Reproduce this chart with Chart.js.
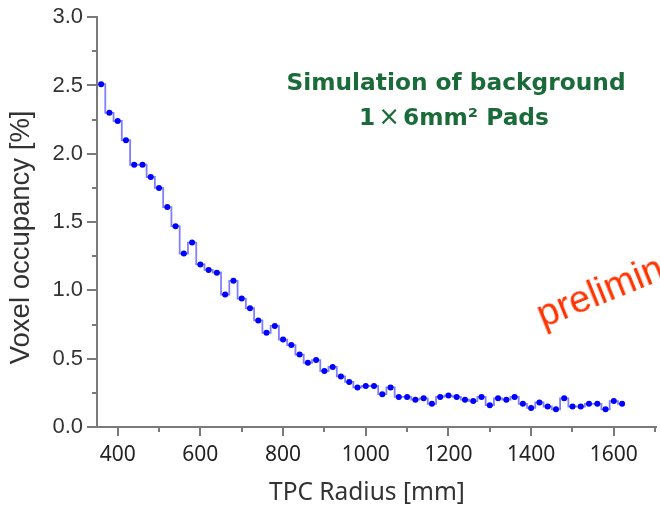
<!DOCTYPE html>
<html lang="en">
<head>
<meta charset="utf-8">
<title>Voxel occupancy vs TPC radius</title>
<script src="https://cdn.jsdelivr.net/npm/chart.js"></script>
<style>
  html, body { margin: 0; padding: 0; background: #fff; }
  #wrap { position: relative; width: 660px; height: 508px; overflow: hidden; }
  #myChart { position: absolute; left: 0; top: 0; }
  .note {
    position: absolute;
    font-family: "DejaVu Sans", sans-serif;
    font-weight: bold;
    font-size: 23.3px;
    line-height: 1;
    color: #1b6b3a;
    white-space: nowrap;
    transform: translateX(-50%);
  }
  .note .times { font-weight: normal; font-size: 26px; margin: 0 3px; }
  #prelim {
    position: absolute;
    left: 543px;
    top: 296px;
    font-family: "Liberation Sans", Arial, sans-serif;
    font-size: 38px;
    line-height: 1;
    color: #ff3300;
    white-space: nowrap;
    transform-origin: 0 32px;
    transform: rotate(-22deg);
  }
</style>
</head>
<body>
<div id="wrap">
  <canvas id="myChart" width="660" height="508"></canvas>
  <div class="note" style="left:456px; top:70px;">Simulation of background</div>
  <div class="note" style="left:454px; top:103px;">1<span class="times">×</span>6mm² Pads</div>
  <div id="prelim">preliminary</div>
</div>
<script>
// bin centres along the TPC radius [mm]
const radius = [
  360, 380, 400, 420, 440, 460, 480, 500, 520, 540,
  560, 580, 600, 620, 640, 660, 680, 700, 720, 740,
  760, 780, 800, 820, 840, 860, 880, 900, 920, 940,
  960, 980, 1000, 1020, 1040, 1060, 1080, 1100, 1120, 1140,
  1160, 1180, 1200, 1220, 1240, 1260, 1280, 1300, 1320, 1340,
  1360, 1380, 1400, 1420, 1440, 1460, 1480, 1500, 1520, 1540,
  1560, 1580, 1600, 1620
];
// voxel occupancy [%]
const occupancy = [
  2.51, 2.30, 2.24, 2.10, 1.92, 1.92, 1.83, 1.75, 1.61, 1.47,
  1.27, 1.35, 1.19, 1.15, 1.13, 0.97, 1.07, 0.94, 0.87, 0.78,
  0.69, 0.74, 0.64, 0.60, 0.53, 0.47, 0.49, 0.41, 0.44, 0.37,
  0.33, 0.29, 0.30, 0.30, 0.24, 0.29, 0.22, 0.22, 0.20, 0.21,
  0.17, 0.22, 0.23, 0.22, 0.20, 0.19, 0.22, 0.16, 0.21, 0.20,
  0.22, 0.17, 0.14, 0.18, 0.15, 0.13, 0.21, 0.15, 0.15, 0.17,
  0.17, 0.13, 0.19, 0.17
];

const xMajorTicks = [400, 600, 800, 1000, 1200, 1400, 1600];
const xMinorTicks = [500, 700, 900, 1100, 1300, 1500, 1700];
const yMajorTicks = [0.0, 0.5, 1.0, 1.5, 2.0, 2.5, 3.0];
const yMinorTicks = [0.25, 0.75, 1.25, 1.75, 2.25, 2.75];

const axisColor = '#7a7a7a';

// short minor ticks, drawn from the scales' own pixel mapping
const minorTicks = {
  id: 'minorTicks',
  afterDraw(chart) {
    const ctx = chart.ctx;
    const xs = chart.scales.x, ys = chart.scales.y;
    ctx.save();
    ctx.strokeStyle = axisColor;
    ctx.lineWidth = 2;
    ctx.beginPath();
    xMinorTicks.forEach(v => {
      const px = Math.round(xs.getPixelForValue(v));
      ctx.moveTo(px, xs.top);
      ctx.lineTo(px, xs.top + 5);
    });
    yMinorTicks.forEach(v => {
      const py = Math.round(ys.getPixelForValue(v));
      ctx.moveTo(ys.right, py);
      ctx.lineTo(ys.right - 5, py);
    });
    ctx.stroke();
    ctx.restore();
  }
};

const data = {
  datasets: [{
    data: radius.map((r, i) => ({ x: r, y: occupancy[i] })),
    stepped: 'middle',
    borderColor: 'rgba(60,60,255,0.65)',
    borderWidth: 1.8,
    pointRadius: 3,
    pointBorderWidth: 0,
    pointBackgroundColor: '#0000ff',
    fill: false
  }]
};

const config = {
  type: 'line',
  data: data,
  plugins: [minorTicks],
  options: {
    responsive: false,
    animation: false,
    layout: { padding: { top: 15, right: 0, left: 0, bottom: 0 } },
    plugins: { legend: { display: false }, tooltip: { enabled: false } },
    scales: {
      x: {
        type: 'linear',
        min: 350,
        max: 1702,
        afterFit: s => { s.height = 81; },
        afterBuildTicks: s => { s.ticks = xMajorTicks.map(v => ({ value: v })); },
        border: { color: axisColor, width: 2 },
        grid: { drawOnChartArea: false, drawTicks: true, tickLength: 9, color: axisColor, lineWidth: 2 },
        ticks: {
          padding: 6,
          color: '#222',
          font: { family: '"Noto Sans", sans-serif', size: 21 },
          maxRotation: 0,
          callback: v => String(v)
        },
        title: {
          display: true,
          text: 'TPC Radius [mm]   ',
          color: '#333',
          font: { family: '"Noto Sans", sans-serif', size: 24.5 },
          padding: { top: 0, bottom: 0 }
        }
      },
      y: {
        min: 0,
        max: 3,
        afterFit: s => { s.width = 97; },
        afterBuildTicks: s => { s.ticks = yMajorTicks.map(v => ({ value: v })); },
        border: { color: axisColor, width: 2 },
        grid: { drawOnChartArea: false, drawTicks: true, tickLength: 10, color: axisColor, lineWidth: 2 },
        ticks: {
          padding: 4,
          color: '#333',
          font: { family: '"Liberation Sans", Arial, sans-serif', size: 22 },
          callback: v => v.toFixed(1)
        },
        title: {
          display: true,
          text: 'Voxel occupancy [%]    ',
          color: '#333',
          font: { family: '"Liberation Sans", Arial, sans-serif', size: 27.5 },
          padding: { top: 5, bottom: 0 }
        }
      }
    }
  }
};

const myChart = new Chart(document.getElementById('myChart'), config);
</script>
</body>
</html>
